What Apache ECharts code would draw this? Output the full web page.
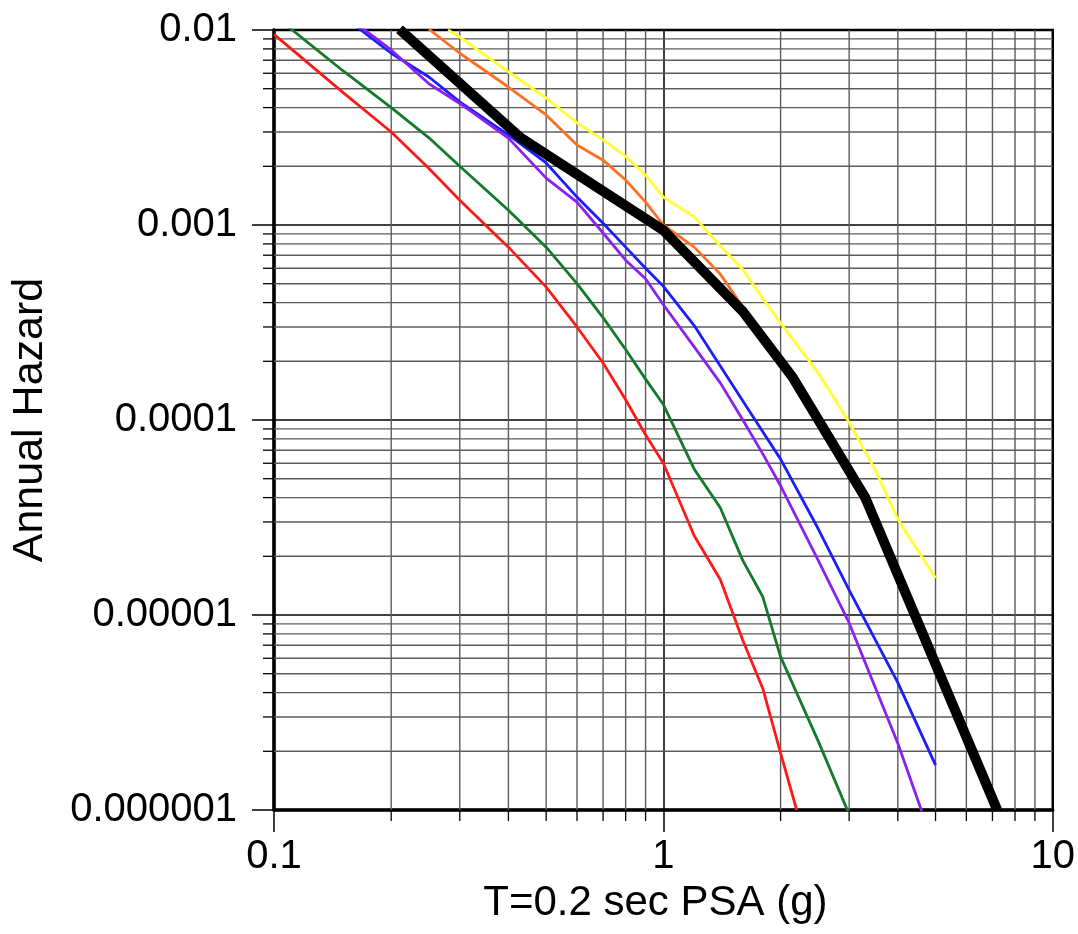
<!DOCTYPE html>
<html>
<head>
<meta charset="utf-8">
<script src="https://cdn.jsdelivr.net/npm/echarts@6/dist/echarts.min.js"></script>
<style>html,body{margin:0;padding:0;background:#fff}#chart{width:1078px;height:934px}</style>
</head>
<body>
<div id="chart"></div>
<script>
// ---- data (PSA in g, annual hazard) ----
const redX    = [0.1,0.15,0.2,0.25,0.3,0.4,0.5,0.6,0.7,0.8,0.9,1.0,1.2,1.4,1.6,1.8,2.0,2.2];
const redY    = [9.5e-3,4.8e-3,3.0e-3,1.95e-3,1.34e-3,7.7e-4,4.8e-4,3.0e-4,1.96e-4,1.27e-4,8.4e-5,6.0e-5,2.55e-5,1.52e-5,7.4e-6,4.2e-6,1.96e-6,1.0e-6];
const greenX  = [0.1,0.15,0.2,0.25,0.3,0.4,0.5,0.6,0.7,0.8,0.9,1.0,1.2,1.4,1.6,1.8,2.0,2.5,3.0];
const greenY  = [0.0119,6.2e-3,4.0e-3,2.8e-3,2.0e-3,1.19e-3,7.7e-4,5.0e-4,3.35e-4,2.3e-4,1.62e-4,1.2e-4,5.6e-5,3.55e-5,1.9e-5,1.24e-5,6.1e-6,2.25e-6,0.95e-6];
const blueX   = [0.15,0.2,0.25,0.3,0.4,0.5,0.6,0.7,0.8,0.9,1.0,1.2,1.4,1.6,1.8,2.0,2.5,3.0,4.0,5.0];
const blueY   = [0.0118,7.6e-3,5.74e-3,4.28e-3,2.9e-3,2.08e-3,1.39e-3,1.02e-3,7.7e-4,6.0e-4,4.85e-4,3.05e-4,1.89e-4,1.25e-4,8.7e-5,6.3e-5,2.76e-5,1.34e-5,4.5e-6,1.7e-6];
const purpleX = [0.15,0.2,0.25,0.3,0.4,0.5,0.6,0.7,0.8,0.9,1.0,1.2,1.4,1.6,1.8,2.0,2.5,3.0,4.0,5.0];
const purpleY = [0.0122,7.9e-3,5.3e-3,4.2e-3,2.79e-3,1.74e-3,1.31e-3,9.1e-4,6.6e-4,5.3e-4,3.9e-4,2.37e-4,1.55e-4,1.0e-4,6.7e-5,4.6e-5,1.9e-5,9.1e-6,2.2e-6,6.2e-7];
const orangeX = [0.25,0.3,0.4,0.5,0.6,0.7,0.8,0.9,1.0,1.2,1.4,1.6,1.8,2.0,2.5,3.0,3.5,4.0,5.0];
const orangeY = [0.0101,7.6e-3,5.1e-3,3.67e-3,2.57e-3,2.15e-3,1.7e-3,1.31e-3,1.0e-3,7.7e-4,5.6e-4,3.8e-4,2.8e-4,2.0e-4,1.0e-4,5.4e-5,2.8e-5,1.5e-5,5.0e-6];
const yellowX = [0.28,0.3,0.4,0.5,0.6,0.7,0.8,0.9,1.0,1.2,1.4,1.6,1.8,2.0,2.5,3.0,3.5,4.0,5.0];
const yellowY = [0.01,9.2e-3,6.1e-3,4.48e-3,3.34e-3,2.73e-3,2.25e-3,1.8e-3,1.39e-3,1.1e-3,7.8e-4,5.9e-4,4.2e-4,3.14e-4,1.74e-4,9.7e-5,5.55e-5,3.1e-5,1.55e-5];
const blackX  = [0.21,0.43,1.0,1.6,2.15,3.3,7.2];
const blackY  = [0.0101,2.8e-3,9.4e-4,3.6e-4,1.65e-4,4.0e-5,1.0e-6];

// ---- axes ----
const xTickValues = [0.1, 1, 10];
const xTickLabels = ['0.1', '1', '10'];
const yTickValues = [1e-6, 1e-5, 1e-4, 1e-3, 1e-2];
const yTickLabels = ['0.000001', '0.00001', '0.0001', '0.001', '0.01'];
const xMinor = [0.2,0.3,0.4,0.5,0.6,0.7,0.8,0.9,2,3,4,5,6,7,8,9];
const yMinor = [2e-6,3e-6,4e-6,5e-6,6e-6,7e-6,8e-6,9e-6,2e-5,3e-5,4e-5,5e-5,6e-5,7e-5,8e-5,9e-5,
                2e-4,3e-4,4e-4,5e-4,6e-4,7e-4,8e-4,9e-4,2e-3,3e-3,4e-3,5e-3,6e-3,7e-3,8e-3,9e-3];
const xName = 'T=0.2 sec PSA (g)';
const yName = 'Annual Hazard';

const X_MIN = xTickValues[0], X_MAX = xTickValues[xTickValues.length - 1];
const Y_MIN = yTickValues[0], Y_MAX = yTickValues[yTickValues.length - 1];

function zip(xs, ys) { return xs.map((x, i) => [x, ys[i]]); }
function labelFor(vals, labels, v) {
  for (let i = 0; i < vals.length; i++) {
    if (Math.abs(Math.log10(v) - Math.log10(vals[i])) < 1e-6) return labels[i];
  }
  return '';
}

const FONT = "'Liberation Sans', Arial, Helvetica, sans-serif";
const MINOR_COLOR = '#5c5c5c';
const TICK_MINOR = 11;

const chart = echarts.init(document.getElementById('chart'), null, { renderer: 'canvas' });

function curve(name, xs, ys, color, width, z) {
  return {
    name, type: 'line', data: zip(xs, ys), showSymbol: false, symbol: 'none',
    clip: true, z: z, silent: true, animation: false,
    lineStyle: { color: color, width: width, join: 'round', cap: 'butt' }
  };
}

chart.setOption({
  animation: false,
  backgroundColor: '#fff',
  grid: { left: 274, right: 24, top: 30, bottom: 124, show: true, borderColor: '#000', borderWidth: 2.5, backgroundColor: 'transparent' },
  xAxis: {
    type: 'log', logBase: 10, min: X_MIN, max: X_MAX,
    name: xName, nameLocation: 'middle', nameGap: 72,
    nameTextStyle: { fontSize: 42, color: '#000', fontFamily: FONT, padding: [0, 16, 0, 0] },
    axisLine: { show: true, lineStyle: { color: '#000', width: 3.5 } },
    axisTick: { show: true, length: 22, lineStyle: { color: '#000', width: 1.5 } },
    axisLabel: { fontSize: 40, color: '#000', fontFamily: FONT, margin: 27,
      formatter: v => labelFor(xTickValues, xTickLabels, v) },
    splitLine: { show: true, lineStyle: { color: '#000', width: 1.5 } }
  },
  yAxis: {
    type: 'log', logBase: 10, min: Y_MIN, max: Y_MAX,
    name: yName, nameLocation: 'middle', nameGap: 222,
    nameTextStyle: { fontSize: 43, color: '#000', fontFamily: FONT },
    axisLine: { show: true, lineStyle: { color: '#000', width: 3.5 } },
    axisTick: { show: true, length: 22, lineStyle: { color: '#000', width: 1.5 } },
    axisLabel: { fontSize: 40, color: '#000', fontFamily: FONT, margin: 37,
      formatter: v => labelFor(yTickValues, yTickLabels, v) },
    splitLine: { show: true, lineStyle: { color: '#000', width: 1.5 } }
  },
  series: [
    {
      type: 'custom', name: 'xMinorGrid', silent: true, z: 1, clip: false,
      data: xMinor.map(v => [v, Y_MIN]),
      renderItem: function (params, api) {
        const x = api.value(0);
        const top = api.coord([x, Y_MAX]);
        const bot = api.coord([x, Y_MIN]);
        return { type: 'group', children: [
          { type: 'line', shape: { x1: top[0], y1: top[1], x2: bot[0], y2: bot[1] }, style: { stroke: MINOR_COLOR, lineWidth: 1.4 } },
          { type: 'line', shape: { x1: bot[0], y1: bot[1], x2: bot[0], y2: bot[1] + TICK_MINOR }, style: { stroke: '#000', lineWidth: 1.3 } }
        ]};
      }
    },
    {
      type: 'custom', name: 'yMinorGrid', silent: true, z: 1, clip: false,
      data: yMinor.map(v => [X_MIN, v]),
      renderItem: function (params, api) {
        const y = api.value(1);
        const l = api.coord([X_MIN, y]);
        const r = api.coord([X_MAX, y]);
        return { type: 'group', children: [
          { type: 'line', shape: { x1: l[0], y1: l[1], x2: r[0], y2: r[1] }, style: { stroke: MINOR_COLOR, lineWidth: 1.4 } },
          { type: 'line', shape: { x1: l[0] - TICK_MINOR, y1: l[1], x2: l[0], y2: l[1] }, style: { stroke: '#000', lineWidth: 1.3 } }
        ]};
      }
    },
    curve('red', redX, redY, '#ff1a1a', 2.8, 3),
    curve('green', greenX, greenY, '#137a2a', 2.8, 3),
    curve('blue', blueX, blueY, '#1c1cff', 2.8, 3),
    curve('purple', purpleX, purpleY, '#8a22ee', 2.8, 3),
    curve('orange', orangeX, orangeY, '#ff6f22', 2.8, 3),
    curve('yellow', yellowX, yellowY, '#ffff33', 2.8, 3),
    curve('black', blackX, blackY, '#000000', 10, 4)
  ]
});
</script>
</body>
</html>
